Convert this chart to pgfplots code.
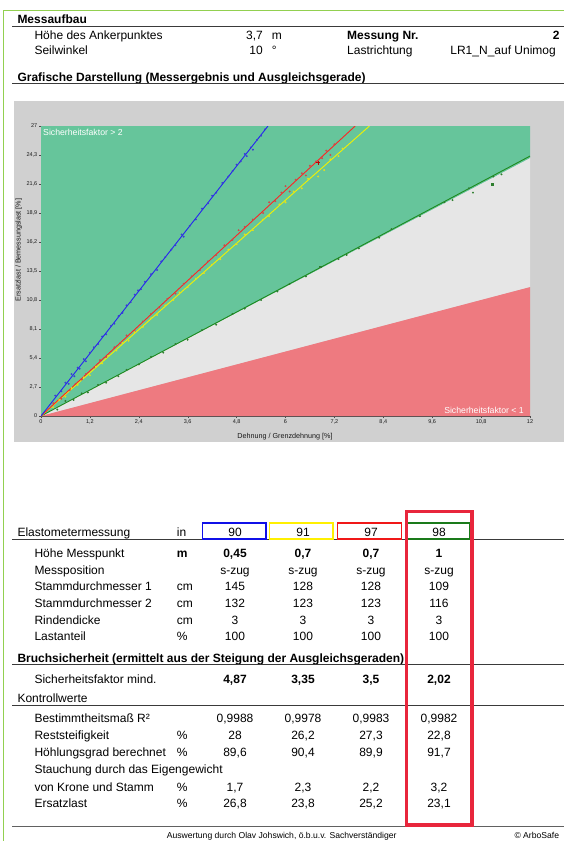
\documentclass[border=0pt]{standalone}
\usepackage{fontspec}
\setmainfont{Liberation Sans}
\usepackage{pgfplots}
\pgfplotsset{compat=1.18}
\definecolor{pagegreen}{HTML}{92D050}
\definecolor{bggray}{HTML}{D0D0D0}
\definecolor{zgreen}{HTML}{66C59B}
\definecolor{zgray}{HTML}{E6E6E6}
\definecolor{zred}{HTML}{EE7A80}
\definecolor{lblue}{HTML}{2424F0}
\definecolor{lred}{HTML}{FF2222}
\definecolor{lyellow}{HTML}{F2F200}
\definecolor{lgreen}{HTML}{1E8A1E}
\definecolor{pblue}{HTML}{3A3AD8}
\definecolor{pred}{HTML}{D04848}
\definecolor{pyellow}{HTML}{E0E020}
\definecolor{pgreen}{HTML}{2E7E2E}
\definecolor{rulegray}{HTML}{3A3A3A}
\definecolor{bigred}{HTML}{E8263C}
\definecolor{boxblue}{HTML}{1010E8}
\definecolor{boxyellow}{HTML}{FFF000}
\definecolor{boxred}{HTML}{F01818}
\definecolor{boxgreen}{HTML}{1A7A1A}
\newcommand\fs{\fontsize{12}{14}\selectfont}
\newcommand\TL[3]{\node[anchor=base west,inner sep=0pt,font=\fs] at (#1pt,-#2pt) {#3};}
\newcommand\TC[3]{\node[anchor=base,inner sep=0pt,font=\fs] at (#1pt,-#2pt) {#3};}
\newcommand\TR[3]{\node[anchor=base east,inner sep=0pt,font=\fs] at (#1pt,-#2pt) {#3};}
\newcommand\Row[5]{\TC{235}{#1}{#2}\TC{303}{#1}{#3}\TC{371}{#1}{#4}\TC{439}{#1}{#5}}
\begin{document}
\begin{tikzpicture}
\fill[white] (0pt,0pt) rectangle (564pt,-841pt);
\draw[pagegreen, line width=1.6pt] (3.3pt,-841pt) -- (3.3pt,-10.3pt) -- (564pt,-10.3pt);
% header
\TL{17.3}{23.8}{\bfseries Messaufbau}
\draw[rulegray, line width=0.8pt] (12pt,-26.2pt) -- (564pt,-26.2pt);
\TL{34.3}{39.3}{Höhe des Ankerpunktes}
\TL{34.3}{54.3}{Seilwinkel}
\TR{263}{39.3}{3,7}
\TL{271.7}{39.3}{m}
\TR{263}{54.3}{10}
\TL{271.7}{54.3}{°}
\TL{347}{39.3}{\bfseries Messung Nr.}
\TR{559.7}{39.3}{\bfseries 2}
\TL{347}{54.3}{Lastrichtung}
\TR{556}{54.3}{LR1\_N\_auf Unimog}
\TL{17.3}{81.7}{\bfseries Grafische Darstellung (Messergebnis und Ausgleichsgerade)}
\draw[rulegray, line width=0.8pt] (12pt,-83.6pt) -- (564pt,-83.6pt);
% chart background
\fill[bggray] (14pt,-101pt) rectangle (564pt,-442pt);
\begin{axis}[
  at={(41pt,-416pt)}, anchor=south west,
  scale only axis, width=489pt, height=290pt,
  xmin=0, xmax=12, ymin=0, ymax=27,
  axis lines=left, axis line style={-, black!70, line width=0.5pt},
  xtick={0,1.2,2.4,3.6,4.8,6,7.2,8.4,9.6,10.8,12},
  xticklabels={0,{1,2},{2,4},{3,6},{4,8},6,{7,2},{8,4},{9,6},{10,8},12},
  ytick={0,2.7,5.4,8.1,10.8,13.5,16.2,18.9,21.6,24.3,27},
  yticklabels={0,{2,7},{5,4},{8,1},{10,8},{13,5},{16,2},{18,9},{21,6},{24,3},27},
  tick align=outside, major tick length=2pt,
  tick style={black!70, line width=0.4pt},
  ticklabel style={font=\fontsize{5.5}{6}\selectfont, text=black!90},
  xticklabel style={inner sep=1.5pt},
  yticklabel style={inner sep=1.5pt},
  xlabel={Dehnung / Grenzdehnung [\%]},
  ylabel={Ersatzlast / Bemessungslast [\%]},
  label style={font=\fontsize{7.2}{8}\selectfont, text=black!90},
  xlabel style={at={(axis description cs:0.499,-0.071)}, anchor=center},
  ylabel style={at={(axis description cs:-0.0456,0.572)}, anchor=center},
]
\addplot[draw=none, fill=zgreen] coordinates {(0,0) (12,24) (12,27) (0,27)};
\addplot[draw=none, fill=zgray] coordinates {(0,0) (12,12) (12,24)};
\addplot[draw=none, fill=zred] coordinates {(0,0) (12,0) (12,12)};
% measured points
\addplot[only marks, mark=*, mark size=0.75pt, pblue] coordinates {
(0.35,1.9) (0.5,2.3) (0.6,3.1) (0.68,3.0) (0.75,3.9) (0.82,3.7) (0.9,4.5) (0.95,4.4)
(1.05,5.3) (1.1,5.1) (1.2,5.9) (1.3,6.4) (1.4,6.7) (1.5,7.4) (1.6,7.6) (1.72,8.4)
(1.8,8.6) (1.9,9.3) (2.0,9.6) (2.1,10.3) (2.2,10.6) (2.3,11.3) (2.38,11.7) (2.45,11.8)
(2.55,12.5) (2.7,13.2) (2.85,13.6) (2.95,14.4) (3.05,14.8) (3.2,15.5) (3.3,15.9)
(3.45,16.9) (3.5,16.7) (3.65,17.7) (3.8,18.3) (3.95,19.3) (4.1,19.8) (4.2,20.5)
(4.3,20.8) (4.45,21.7) (4.6,22.3) (4.7,22.8) (4.8,23.4) (4.9,23.7) (5.0,24.4)
(5.05,24.2) (5.15,25.0) (5.2,24.8) (5.3,25.7) (5.4,26.1) (5.5,26.7)};
\addplot[only marks, mark=*, mark size=0.75pt, pred] coordinates {
(0.3,1.2) (0.5,1.6) (0.7,2.4) (0.85,3.0) (1.0,3.4) (1.1,3.9) (1.3,4.5) (1.45,5.2)
(1.6,5.5) (1.8,6.4) (1.95,6.8) (2.1,7.5) (2.3,7.9) (2.5,8.8) (2.7,9.5) (2.9,10.1)
(3.1,10.9) (3.3,11.4) (3.5,12.3) (3.7,13.0) (3.9,13.6) (4.1,14.4) (4.3,15.0)
(4.5,15.9) (4.7,16.4) (4.85,17.3) (5.0,17.6) (5.2,18.3) (5.45,18.9) (5.6,19.9)
(5.75,20.0) (5.9,20.8) (6.0,21.4) (6.1,20.9) (6.25,22.0) (6.4,22.6) (6.5,22.4)
(6.6,23.3) (6.75,23.7) (6.9,24.0) (7.0,24.7) (7.1,24.3) (7.2,25.3)};
\addplot[only marks, mark=*, mark size=0.75pt, pyellow] coordinates {
(0.3,0.8) (0.45,1.5) (0.6,1.8) (0.75,2.6) (0.9,2.9) (1.05,3.6) (1.2,3.8) (1.35,4.6)
(1.5,4.9) (1.65,5.6) (1.85,6.1) (2.0,6.8) (2.15,7.0) (2.3,7.8) (2.5,8.3) (2.7,9.1)
(2.85,9.4) (3.05,10.3) (3.25,10.8) (3.4,11.5) (3.6,12.0) (3.8,12.8) (4.0,13.3)
(4.2,14.1) (4.4,14.6) (4.6,15.5) (4.8,16.0) (5.0,16.9) (5.2,17.3) (5.45,18.3)
(5.6,18.6) (5.85,19.7) (6.0,19.9) (6.2,20.9) (6.4,21.2) (6.55,22.1) (6.8,22.3)
(6.95,22.9) (7.1,23.9) (7.3,24.2) (7.4,24.9)};
\addplot[only marks, mark=*, mark size=0.75pt, pgreen] coordinates {
(0.4,0.6) (0.6,1.4) (0.8,1.5) (1.0,2.1) (1.15,2.2) (1.4,2.9) (1.6,3.1) (1.9,3.7)
(2.1,4.3) (2.4,4.8) (2.7,5.5) (3.0,5.9) (3.3,6.7) (3.6,7.1) (3.95,8.0) (4.3,8.5)
(4.7,9.5) (5.0,10.0) (5.4,10.8) (5.8,11.6) (6.1,12.3) (6.5,13.0) (7.3,14.6)
(7.5,15.0) (7.8,15.6) (8.3,16.6) (8.6,17.4) (9.3,18.6) (9.9,19.9) (10.1,20.1)
(10.5,21.2) (10.6,20.8) (11.1,22.3) (11.3,22.5)};
\addplot[only marks, mark=square*, mark size=0.9pt, pgreen] coordinates {(6.85,13.9) (11.07,21.6)};
\addplot[only marks, mark=+, mark size=2pt, red!75!black, line width=0.6pt] coordinates {(6.8,23.6)};
% regression lines
\addplot[lgreen, line width=0.9pt] coordinates {(0,0) (12,24.2)};
\addplot[lyellow, line width=0.9pt] coordinates {(0,0) (8.06,27)};
\addplot[lred, line width=0.9pt] coordinates {(0,0) (7.71,27)};
\addplot[lblue, line width=0.9pt] coordinates {(0,0) (5.57,27)};
\end{axis}
\node[anchor=west, inner sep=0pt, text=white, font=\fontsize{8.7}{10}\selectfont] at (43pt,-132pt) {Sicherheitsfaktor > 2};
\node[anchor=east, inner sep=0pt, text=white, font=\fontsize{8.7}{10}\selectfont] at (524pt,-410pt) {Sicherheitsfaktor < 1};
% table
\draw[rulegray, line width=0.8pt] (12pt,-539.3pt) -- (564pt,-539.3pt);
\TL{17.3}{536.7}{Elastometermessung}
\TL{176.7}{536.7}{in}
\draw[boxblue, line width=1.6pt] (202.3pt,-523.2pt) rectangle (266pt,-539.2pt);
\draw[boxyellow, line width=1.6pt] (269.5pt,-523.2pt) rectangle (333pt,-539.2pt);
\draw[boxred, line width=1.6pt] (337.5pt,-523.2pt) rectangle (401.5pt,-539.2pt);
\draw[boxgreen, line width=1.6pt] (406pt,-523.2pt) rectangle (469.5pt,-539.2pt);
\Row{536.7}{90}{91}{97}{98}
\TL{34.3}{557.3}{Höhe Messpunkt}
\TL{176.7}{557.3}{\bfseries m}
\Row{557.3}{\bfseries 0,45}{\bfseries 0,7}{\bfseries 0,7}{\bfseries 1}
\TL{34.3}{574}{Messposition}
\Row{574}{s-zug}{s-zug}{s-zug}{s-zug}
\TL{34.3}{590.7}{Stammdurchmesser 1}
\TL{176.7}{590.7}{cm}
\Row{590.7}{145}{128}{128}{109}
\TL{34.3}{607.3}{Stammdurchmesser 2}
\TL{176.7}{607.3}{cm}
\Row{607.3}{132}{123}{123}{116}
\TL{34.3}{624}{Rindendicke}
\TL{176.7}{624}{cm}
\Row{624}{3}{3}{3}{3}
\TL{34.3}{640.7}{Lastanteil}
\TL{176.7}{640.7}{\%}
\Row{640.7}{100}{100}{100}{100}
\TL{17.3}{662.3}{\bfseries Bruchsicherheit (ermittelt aus der Steigung der Ausgleichsgeraden)}
\draw[rulegray, line width=0.8pt] (12pt,-664.5pt) -- (564pt,-664.5pt);
\TL{34.3}{683.3}{Sicherheitsfaktor mind.}
\Row{683.3}{\bfseries 4,87}{\bfseries 3,35}{\bfseries 3,5}{\bfseries 2,02}
\TL{17.3}{702.7}{Kontrollwerte}
\draw[rulegray, line width=0.8pt] (12pt,-705pt) -- (564pt,-705pt);
\TL{34.3}{722.7}{Bestimmtheitsmaß R²}
\Row{722.7}{0,9988}{0,9978}{0,9983}{0,9982}
\TL{34.3}{739.3}{Reststeifigkeit}
\TL{176.7}{739.3}{\%}
\Row{739.3}{28}{26,2}{27,3}{22,8}
\TL{34.3}{756}{Höhlungsgrad berechnet}
\TL{176.7}{756}{\%}
\Row{756}{89,6}{90,4}{89,9}{91,7}
\TL{34.3}{773.3}{Stauchung durch das Eigengewicht}
\TL{34.3}{791}{von Krone und Stamm}
\TL{176.7}{791}{\%}
\Row{791}{1,7}{2,3}{2,2}{3,2}
\TL{34.3}{807.7}{Ersatzlast}
\TL{176.7}{807.7}{\%}
\Row{807.7}{26,8}{23,8}{25,2}{23,1}
\draw[rulegray!80, line width=0.8pt] (12pt,-826.7pt) -- (564pt,-826.7pt);
\node[anchor=base west, inner sep=0pt, font=\fontsize{8.6}{10}\selectfont] at (166.7pt,-838.7pt) {Auswertung durch Olav Johswich, ö.b.u.v. Sachverständiger};
\node[anchor=base east, inner sep=0pt, font=\fontsize{8.6}{10}\selectfont] at (559.3pt,-838.7pt) {© ArboSafe};
\draw[bigred, line width=3.3pt] (406.3pt,-511.7pt) rectangle (472pt,-825pt);
\pgfresetboundingbox
\useasboundingbox (0pt,0pt) rectangle (564pt,-841pt);
\end{tikzpicture}
\end{document}
